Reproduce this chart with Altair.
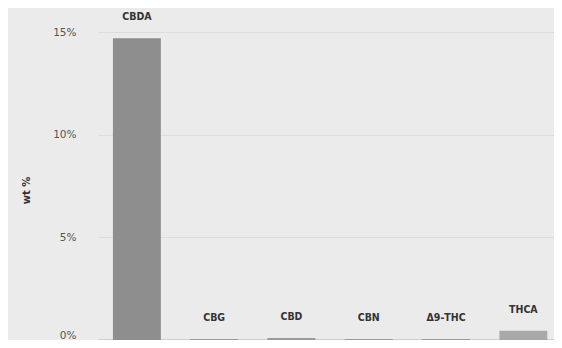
import altair as alt
import pandas as pd

compounds = ["CBDA", "CBG", "CBD", "CBN", "Δ9-THC", "THCA"]
wt_percent = [14.7, 0.05, 0.1, 0.05, 0.05, 0.45]
bar_colors = ["#8e8e8e", "#9a9a9a", "#9a9a9a", "#9a9a9a", "#9a9a9a", "#a9a9a9"]
y_ticks = [0, 5, 10, 15]

df = pd.DataFrame({"compound": compounds, "wt": [v / 100 for v in wt_percent], "color": bar_colors})

x = alt.X("compound:N", sort=compounds,
          scale=alt.Scale(paddingInner=0.38, paddingOuter=0.14, align=0.69),
          axis=alt.Axis(labels=False, ticks=False, title=None, domain=True,
                        domainColor="#777777", domainWidth=1.5, grid=False))
y = alt.Y("wt:Q", scale=alt.Scale(domain=[0, 0.15], nice=False),
          axis=alt.Axis(values=[t / 100 for t in y_ticks], format=".0%", title="wt %",
                        domain=False, ticks=False, labelPadding=22, labelFontSize=10.5,
                        labelBaseline=alt.expr("datum.value == 0 ? 'bottom' : 'middle'"),
                        labelColor="#555555", grid=True, gridColor="#dddddd",
                        titleAngle=-90, titleX=-72, titleY=158, titleAlign="center",
                        titleBaseline="middle", titleFontSize=10, titleColor="#333333",
                        titleFontWeight="bold"))

bars = alt.Chart(df).mark_bar().encode(x=x, y=y, color=alt.Color("color:N", scale=None))
labels = alt.Chart(df).mark_text(baseline="middle", dy=-21, fontSize=10.5, fontWeight="bold",
                                 color="#333333", font="DejaVu Sans Condensed").encode(
    x=alt.X("compound:N", sort=compounds), y="wt:Q", text="compound:N")

chart = (bars + labels).properties(
    width=456, height=308,
    autosize=alt.AutoSizeParams(type="none"),
    padding={"left": 90, "top": 24, "right": 0, "bottom": 0},
    background="#ebebeb",
).configure_view(stroke=None, fill="#ebebeb").configure_axis(labelFont="DejaVu Sans", titleFont="DejaVu Sans")

chart.save("out.html", embed_options={"renderer": "svg", "actions": False})
